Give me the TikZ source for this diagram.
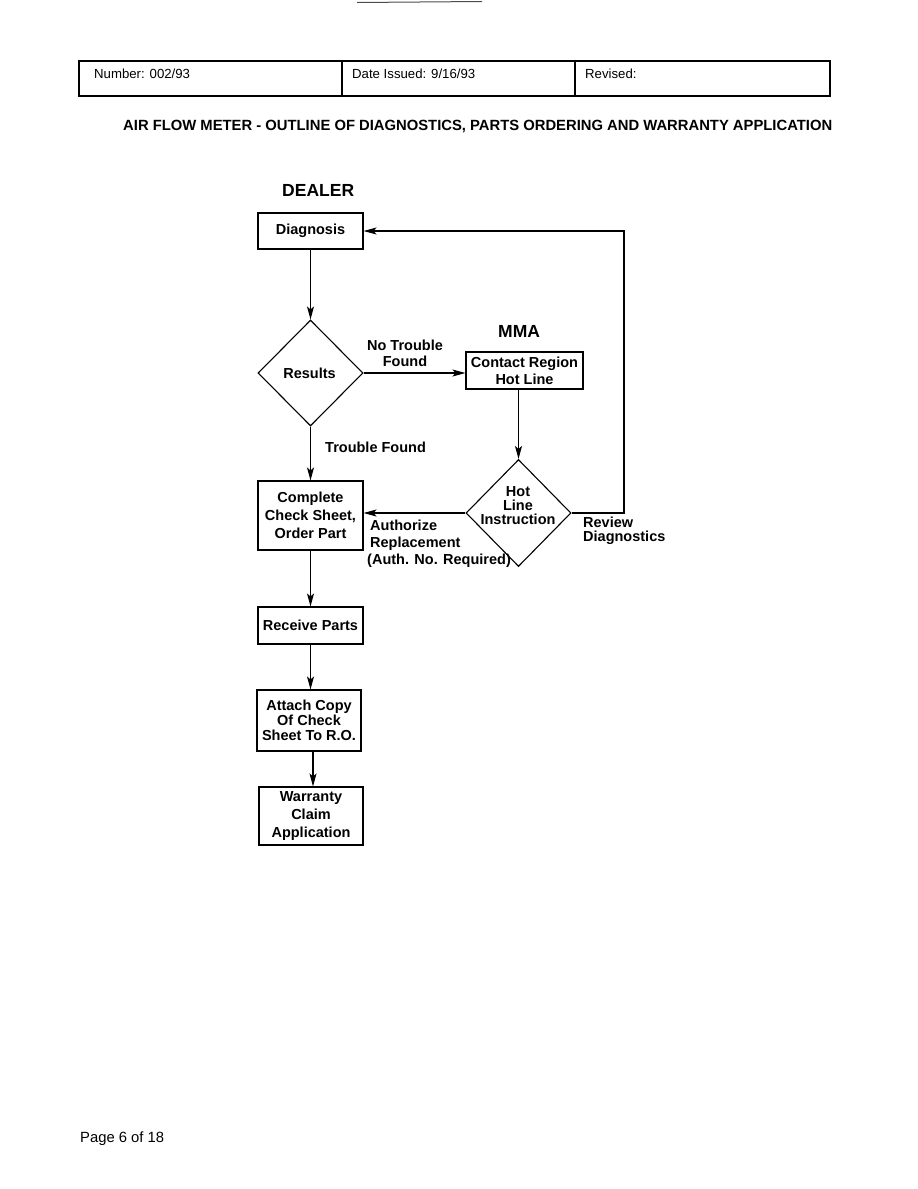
\documentclass[tikz,border=0pt]{standalone}
\usepackage{fontspec}
\setmainfont{Liberation Sans}
\usetikzlibrary{shapes.geometric,arrows.meta}
\tikzset{
  ln/.style={line width=1.1pt},
  arr/.style={ln,-{Stealth[length=13pt,width=7pt,inset=3pt]}},
  dtxt/.style={font=\fontsize{14.5}{18}\selectfont\bfseries, inner sep=0pt},
  boxn/.style={draw, ln, inner sep=0pt, align=center, font=\fontsize{14.5}{18}\selectfont\bfseries},
  dia/.style={draw, ln, diamond, inner sep=0pt, minimum width=105pt, minimum height=106pt},
  hdr/.style={font=\fontsize{13.2}{16}\selectfont, inner sep=0pt, anchor=base west},
  ttl/.style={font=\fontsize{17.5}{20}\selectfont\bfseries, inner sep=0pt, anchor=base west}
}
\begin{document}
\begin{tikzpicture}[x=1pt,y=-1pt]
\useasboundingbox (0,0) rectangle (918,1189);
% scan artifact at top
\draw[line width=1pt, black!70] (357,2.5) -- (482,1.5);
% header table
\draw[ln] (79,61) rectangle (830,96);
\draw[ln] (342,61) -- (342,96);
\draw[ln] (575,61) -- (575,96);
\node[hdr] (num) at (94,78) {Number: 002/93};
\node[hdr] (date) at (352,78) {Date Issued: 9/16/93};
\node[hdr] (rev) at (585,78) {Revised:};
\node[inner sep=0pt, anchor=base west, font=\fontsize{14.8}{16}\selectfont\bfseries] (title) at (123,130) {AIR FLOW METER - OUTLINE OF DIAGNOSTICS, PARTS ORDERING AND WARRANTY APPLICATION};
% column titles
\node[ttl] (dealer) at (282,196.5) {DEALER};
\node[ttl] (mma) at (498,337.5) {MMA};
% boxes
\node[boxn, minimum width=105pt, minimum height=36pt] (diag) at (310.5,231) {Diagnosis};
\node[dia] (res) at (310.5,373) {};
\node[dtxt] (restxt) at (309.5,373) {Results};
\node[boxn, minimum width=117pt, minimum height=37pt, font=\fontsize{14.5}{17}\selectfont\bfseries] (contact) at (524.5,370.5) {Contact Region\\Hot Line};
\node[dia, minimum height=107pt] (hot) at (518.5,513) {};
\node[dtxt, align=center, font=\fontsize{14.5}{14}\selectfont\bfseries] (hottxt) at (518,506) {Hot\\Line\\Instruction};
\node[boxn, minimum width=105pt, minimum height=69pt] (comp) at (310.5,515.5) {Complete\\Check Sheet,\\Order Part};
\node[boxn, minimum width=105pt, minimum height=37pt] (recv) at (310.5,625.5) {Receive Parts};
\node[boxn, minimum width=104pt, minimum height=61pt, font=\fontsize{14.5}{15}\selectfont\bfseries] (att) at (309,720.5) {Attach Copy\\Of Check\\Sheet To R.O.};
\node[boxn, minimum width=104pt, minimum height=58pt] (war) at (311,816) {Warranty\\Claim\\Application};
% labels
\node[dtxt, align=center, font=\fontsize{14.5}{16}\selectfont\bfseries] (lnt) at (405,353) {No Trouble\\Found};
\node[dtxt, anchor=west] (ltf) at (325,447) {Trouble Found};
\node[dtxt, anchor=west, align=left, font=\fontsize{14.5}{17}\selectfont\bfseries] (lauth) at (367,544) {\hspace*{3pt}Authorize\\\hspace*{3pt}Replacement\\(Auth. No. Required)};
\node[dtxt, anchor=west, align=left, font=\fontsize{14.5}{14}\selectfont\bfseries] (lrev) at (583,531) {Review\\Diagnostics};
% connectors
\draw[arr] (diag.south) -- (res.north);
\draw[arr] (res.east) -- (contact.west |- res.east);
\draw[arr] (contact.south -| hot.north) -- (hot.north);
\draw[arr] (res.south) -- (comp.north);
\draw[arr] (hot.west) -- (comp.east |- hot.west);
\coordinate (c1) at (624,513);
\coordinate (c2) at (624,231);
\draw[arr] (hot.east) -- (c1) -- (c2) -- (diag.east);
\draw[arr] (comp) -- (recv);
\draw[arr] (recv) -- (att.north -| recv.south);
\draw[arr] ([xshift=4pt]att.south) -- ([xshift=2pt]war.north);
% footer
\node[inner sep=0pt, anchor=base west, font=\fontsize{14.8}{16}\selectfont] (page) at (80,1142) {Page 6 of 18};
\end{tikzpicture}
\end{document}
